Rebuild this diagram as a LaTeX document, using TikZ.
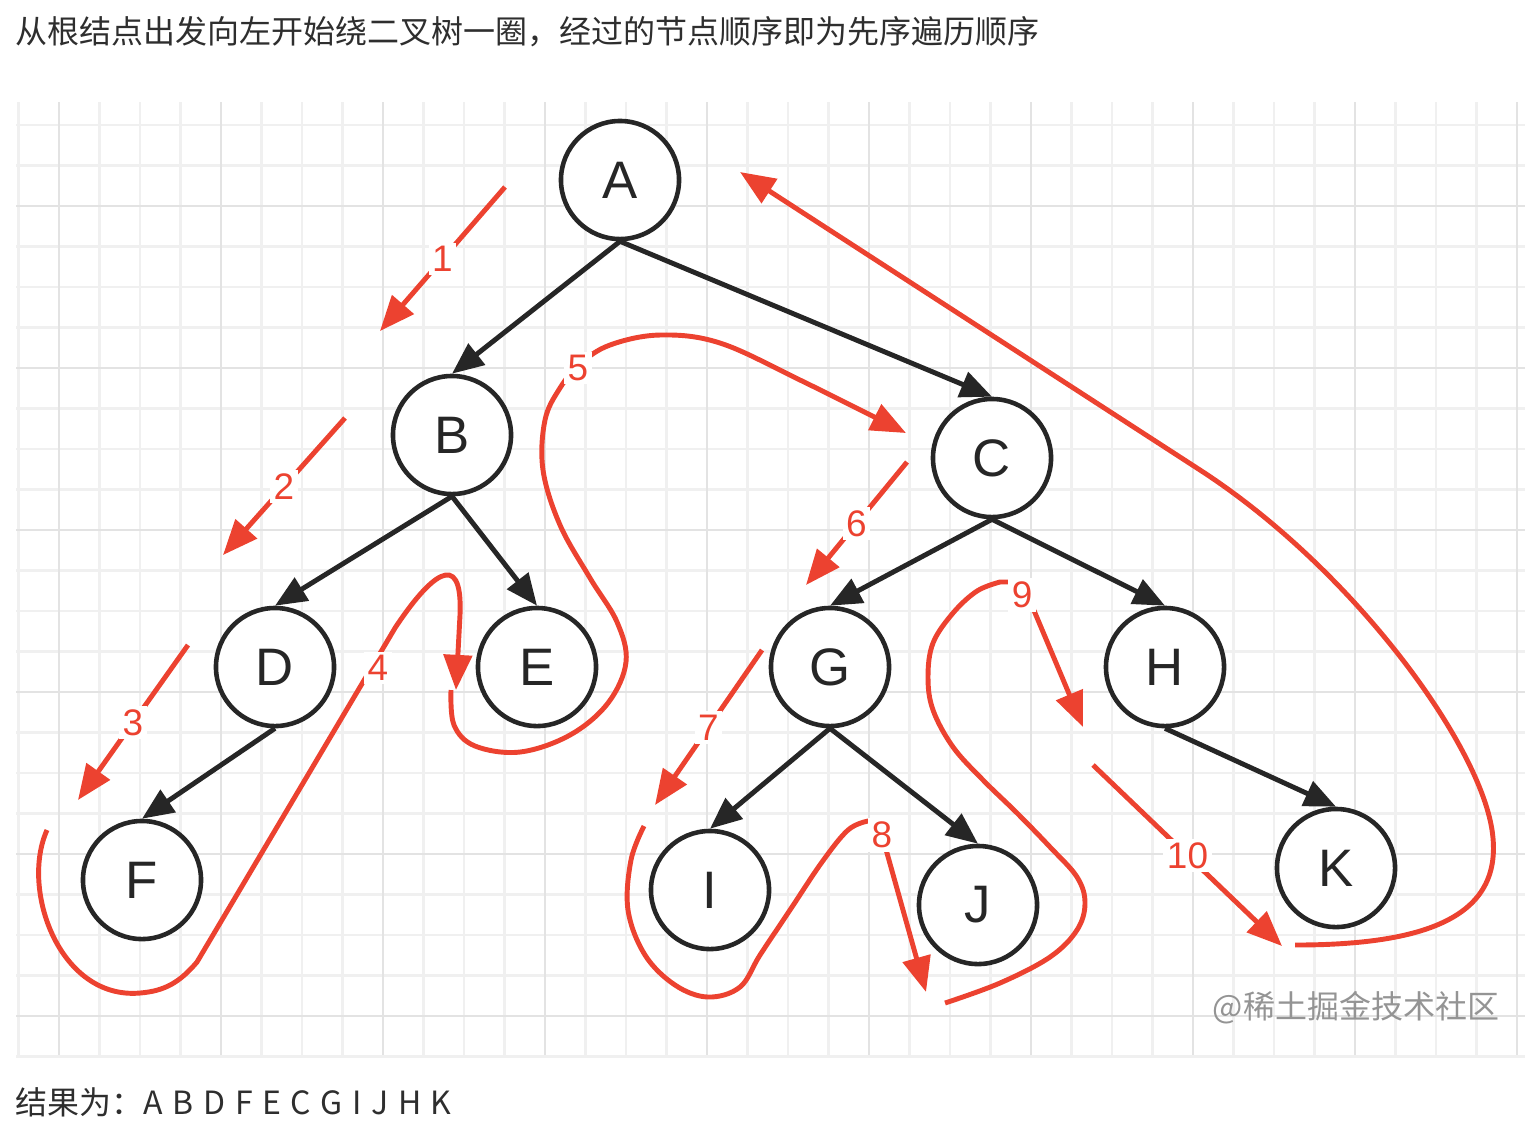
\documentclass[tikz,border=0pt]{standalone}
\usepackage{fontspec}
\setmainfont{Liberation Sans}
\newfontfamily\cjk{Noto Sans CJK SC}
\usetikzlibrary{arrows.meta,positioning}
\definecolor{routered}{RGB}{236,66,48}
\definecolor{inkgray}{RGB}{38,38,38}
\tikzset{
  vertex/.style={circle, draw=inkgray, line width=1.3pt, fill=white, minimum size=1.18cm,
                 inner sep=0pt, font=\fontsize{15}{18}\selectfont, text=inkgray},
  num/.style={font=\fontsize{10.5}{12}\selectfont, text=routered, fill=white, inner sep=1pt},
  route/.style={-{Triangle[length=10pt,width=8pt]}, line width=1.4pt, routered},
}

\begin{document}
\begin{tikzpicture}[
        x=0.01cm, y=-0.01cm,
        tree/.style={-{Triangle[length=9pt,width=7.5pt]}, line width=1.4pt, inkgray},
        minorline/.style={line width=0.6pt, black!6},
        majorline/.style={line width=0.7pt, black!11},
        caption/.style={font=\cjk\fontsize{9.1}{11}\selectfont, text=black!82, anchor=west, inner sep=0pt}
    ]
    \useasboundingbox (0,0) rectangle (1531,1129);

    % Grid paper
    \foreach \i in {0,...,37} {
        \draw[minorline] ({18.5+40.5*\i},102) -- ++(0,953);
    }
    \foreach \i in {0,...,23} {
        \draw[minorline] (16,{125+40.5*\i}) -- ++(1509,0);
    }
    \foreach \i in {0,...,9} {
        \draw[majorline] ({59+162*\i},102) -- ++(0,953);
    }
    \foreach \i in {0,...,5} {
        \draw[majorline] (16,{206+162*\i}) -- ++(1509,0);
    }

    % Texts
    \node[caption] (title) at (15,32) {从根结点出发向左开始绕二叉树一圈，经过的节点顺序即为先序遍历顺序};
    \node[caption] (result) at (15,1102) {结果为：{\spaceskip=0.3em A B D F E C G I J H K}};
    \node[caption, text=black!42] (mark) at (1212,1008) {@稀土掘金技术社区};

    % Tree
    \node[vertex] (a) at (620,180) {A};
    \node[vertex] (b) at (452,435) {B};
    \node[vertex] (c) at (992,458) {C};
    \node[vertex] (d) at (275,667) {D};
    \node[vertex] (e) at (537,667) {E};
    \node[vertex] (f) at (142,880) {F};
    \node[vertex] (g) at (830,667) {G};
    \node[vertex] (h) at (1165,667) {H};
    \node[vertex] (i) at (710,890) {I};
    \node[vertex] (j) at (978,905) {J};
    \node[vertex] (k) at (1336,868) {K};

    \draw[tree] (a.south) -- (b.north);
    \draw[tree] (a.south) -- (c.north);
    \draw[tree] (b.south) -- (d.north);
    \draw[tree] (b.south) -- (e.north);
    \draw[tree] (d.south) -- (f.north);
    \draw[tree] (c.south) -- (g.north);
    \draw[tree] (c.south) -- (h.north);
    \draw[tree] (g.south) -- (i.north);
    \draw[tree] (g.south) -- (j.north);
    \draw[tree] (h.south) -- (k.north);

    % Walk ends
    \coordinate (r1s) at (505,187);   \coordinate (r1e) at (380,331);
    \coordinate (r2s) at (345,418);   \coordinate (r2e) at (223,555);
    \coordinate (r3s) at (188,645);   \coordinate (r3e) at (78,800);
    \coordinate (r4s) at (47,830);    \coordinate (r4e) at (456,690);
    \coordinate (r5s) at (451,690);   \coordinate (r5e) at (906,433);
    \coordinate (r6s) at (907,462);   \coordinate (r6e) at (806,585);
    \coordinate (r7s) at (762,650);   \coordinate (r7e) at (655,805);
    \coordinate (r8s) at (644,826);   \coordinate (r8e) at (926,992);
    \coordinate (r9s) at (945,1003);  \coordinate (r9e) at (1083,727);
    \coordinate (r10s) at (1093,765); \coordinate (r10e) at (1282,946);
    \coordinate (r11s) at (1295,945); \coordinate (r11e) at (740,172);

    % Walk round the tree
    \draw[route] (r1s) -- node[num] {1} (r1e);
    \draw[route] (r2s) -- node[num] {2} (r2e);
    \draw[route] (r3s) -- node[num] {3} (r3e);
    \draw[route] (r4s) .. controls (20,890) and (60,1000) .. (140,993)
                       .. controls (165,991) and (180,982) .. (197,962) -- (395,628)
                       .. controls (428,578) and (463,545) .. (460,615) -- (r4e);
    \node[num] (n4) at (378,668) {4};
    \draw[route] plot[smooth, tension=0.6] coordinates {(r5s) (454,725) (475,746) (520,752) (570,735)
        (608,703) (626,662) (617,622) (590,578) (560,525) (543,470) (545,420) (560,388) (580,364)
        (610,345) (660,335) (720,343) (800,380) (r5e)};
    \node[num] (n5) at (578,368) {5};
    \draw[route] (r6s) -- node[num] {6} (r6e);
    \draw[route] (r7s) -- node[num] {7} (r7e);
    \draw[route] plot[smooth, tension=0.6] coordinates {(r8s) (631,860) (628,910) (645,955) (675,985)
        (708,997) (740,987) (760,955) (790,910) (822,862) (848,830) (868,821)} -- (878,821) -- (r8e);
    \node[num] (n8) at (882,835) {8};
    \draw[route] plot[smooth, tension=0.6] coordinates {(r9s) (1000,983) (1050,957) (1077,930) (1085,903)
        (1077,877) (1050,847) (1017,813) (983,780) (953,747) (933,710) (928,677) (933,643) (953,613)
        (977,591) (1000,582)} -- (1022,582) -- (r9e);
    \node[num] (n9) at (1022,595) {9};
    \draw[route] (r10s) -- node[num] {10} (r10e);
    \draw[route] (r11s) .. controls (1430,945) and (1505,915) .. (1492,830)
                        .. controls (1478,740) and (1350,567) .. (1200,470) -- (r11e);

\end{tikzpicture}
\end{document}
